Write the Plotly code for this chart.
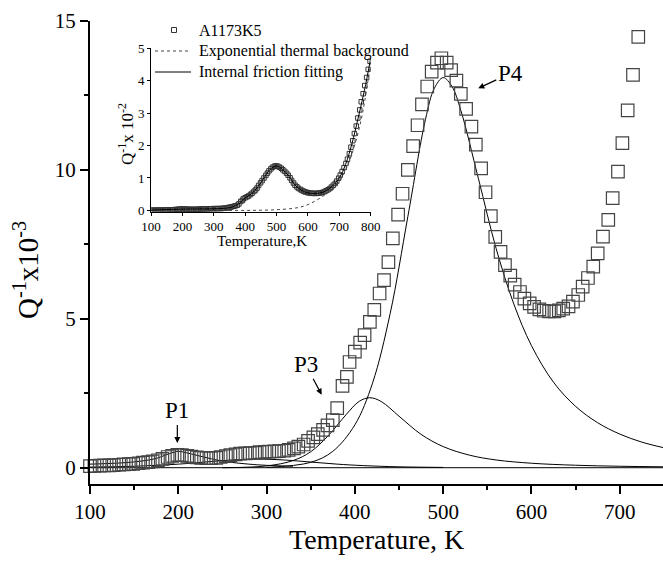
import plotly.graph_objects as go

# ---------------- data ----------------
# main panel: measured internal friction (Q^-1 x 10^-3) vs temperature (K)
temp_main = [100,105,111,116,122,127,133,138,144,149,155,160,166,171,177,182,188,193,199,204,
             210,215,221,226,232,237,243,248,254,259,265,270,276,281,287,292,298,303,309,314,
             320,325,331,336,342,347,353,358,364,369,375,380,386,391,394,400,406,411,417,422,
             428,433,438,443,449,454,460,466,471,476,482,487,493,498,504,509,515,520,526,532,
             537,543,548,554,559,565,570,576,581,587,592,598,603,609,614,620,626,631,636,642,
             647,653,658,664,670,675,681,687,692,698,703,709,715,721]
q_main = [0.05,0.06,0.07,0.08,0.08,0.09,0.10,0.11,0.12,0.13,0.15,0.17,0.19,0.21,0.25,0.30,0.36,0.40,0.43,0.42,
          0.40,0.37,0.35,0.33,0.32,0.32,0.33,0.36,0.39,0.42,0.45,0.47,0.48,0.49,0.50,0.52,0.53,0.54,0.55,0.56,
          0.57,0.60,0.65,0.71,0.78,0.90,1.02,1.13,1.27,1.42,1.60,2.00,2.75,3.05,3.55,3.90,4.20,4.45,4.90,5.30,
          5.85,6.30,6.90,7.70,8.50,9.20,10.0,10.8,11.5,12.2,12.8,13.3,13.6,13.75,13.6,13.35,13.0,12.55,12.05,11.45,
          10.85,10.05,9.25,8.45,7.75,7.25,6.80,6.45,6.15,5.90,5.68,5.52,5.40,5.32,5.27,5.25,5.25,5.28,5.34,5.42,
          5.58,5.80,6.08,6.37,6.75,7.20,7.76,8.32,9.05,9.94,10.9,12.0,13.19,14.47]

# fitted relaxation peaks (main panel)
p1_t = [100,120,140,160,175,185,195,200,205,215,230,245,260,280,300,330]
p1_q = [0.12,0.14,0.17,0.23,0.31,0.42,0.52,0.55,0.53,0.46,0.35,0.25,0.18,0.12,0.08,0.05]
p2_t = [100,150,200,230,260,290,320,350,380,410,450,500]
p2_q = [0.02,0.05,0.12,0.19,0.26,0.29,0.26,0.19,0.12,0.07,0.03,0.01]
p3_t = [250,300,330,350,370,390,405,417,430,450,475,500,530,560,600,650,700,750]
p3_q = [0.0,0.06,0.24,0.535,1.08,1.78,2.23,2.35,2.22,1.73,1.12,0.71,0.42,0.26,0.15,0.083,0.049,0.03]
p4_t = [300,350,375,400,420,440,460,480,490,500,510,520,540,560,580,600,625,650,675,700,725,750]
p4_q = [0.01,0.18,0.55,1.44,2.84,5.18,8.43,11.7,12.74,13.1,12.8,12.0,9.7,7.36,5.5,4.1,2.87,2.06,1.51,1.13,0.86,0.67]
base_t = [100, 750]
base_q = [0.0, 0.0]

# inset panel (Q^-1 x 10^-2): same measurement extended to 800 K
temp_ext = [726,732,737,743,748,754,759,765,770,776,781,787,792,798]
q_ext = [1.58,1.75,1.95,2.15,2.37,2.60,2.85,3.10,3.35,3.60,3.85,4.10,4.35,4.60]
bg_t = [100,200,300,400,450,500,550,575,600,625,650,675,700,725,750,775,800]
bg_q = [0,0,0,0,0.005,0.02,0.06,0.10,0.18,0.30,0.45,0.65,0.90,1.35,2.05,3.05,4.60]
fit_t = [100,200,300,340,360,380,400,420,440,460,480,500,520,540,560,580,600,620,640,660,680,700,720,740,760,780,800]
fit_q = [0.01,0.04,0.05,0.07,0.11,0.20,0.39,0.51,0.72,1.0,1.27,1.37,1.26,1.05,0.77,0.62,0.54,0.525,0.54,0.62,0.77,1.0,1.42,2.05,2.85,3.70,4.70]

x_ticks_main = [100,200,300,400,500,600,700]
y_ticks_main = [0,5,10,15]
x_ticks_inset = [100,200,300,400,500,600,700,800]
y_ticks_inset = [0,1,2,3,4,5]

legend_names = ["A1173K5", "Exponential thermal background", "Internal friction fitting"]

# ---------------- figure ----------------
FONT = "Liberation Serif"
W, H = 663, 562
ML, MR, MT, MB = 90, 0, 21, 78
PW, PH = W - ML - MR, H - MT - MB

def px(x):
    return (x - ML) / PW

def py(y):
    return (H - MB - y) / PH

fig = go.Figure()

for t, q in [(base_t, base_q), (p1_t, p1_q), (p2_t, p2_q), (p3_t, p3_q), (p4_t, p4_q)]:
    fig.add_trace(go.Scatter(x=t, y=q, mode="lines", line=dict(color="black", width=1, shape="spline"),
                             showlegend=False, xaxis="x", yaxis="y"))

fig.add_trace(go.Scatter(x=temp_main, y=q_main, mode="markers",
                         marker=dict(symbol="square-open", size=12.5, color="#444444", line=dict(width=1.2)),
                         showlegend=False, cliponaxis=False, xaxis="x", yaxis="y"))

# inset
inset_t = temp_main + temp_ext
inset_q = [q / 10 for q in q_main] + q_ext
fig.add_trace(go.Scatter(x=inset_t, y=inset_q, mode="markers",
                         marker=dict(symbol="square-open", size=4.5, color="#333333", line=dict(width=1)),
                         showlegend=False, xaxis="x2", yaxis="y2"))
fig.add_trace(go.Scatter(x=bg_t, y=bg_q, mode="lines", line=dict(color="#444444", width=1, dash="dot", shape="spline"),
                         showlegend=False, xaxis="x2", yaxis="y2"))
fig.add_trace(go.Scatter(x=fit_t, y=fit_q, mode="lines", line=dict(color="black", width=1, shape="spline"),
                         showlegend=False, xaxis="x2", yaxis="y2"))

axis_common = dict(showline=True, linecolor="black", showgrid=False, zeroline=False,
                   ticks="outside", tickcolor="black", automargin=False)

fig.update_layout(
    width=W, height=H,
    margin=dict(l=ML, r=MR, t=MT, b=MB, autoexpand=False),
    paper_bgcolor="white", plot_bgcolor="white",
    font=dict(family=FONT, color="black"),
    showlegend=False,
    xaxis=dict(axis_common, range=[100, 749], tickvals=x_ticks_main, linewidth=2, tickwidth=1.5, ticklen=8,
               tickfont=dict(size=21),
               minor=dict(dtick=50, tick0=100, ticklen=4, tickwidth=1.5, ticks="outside", showgrid=False)),
    yaxis=dict(axis_common, range=[-0.547, 15], tickvals=y_ticks_main, linewidth=2, tickwidth=1.5, ticklen=8,
               tickfont=dict(size=21),
               minor=dict(dtick=2.5, tick0=0, ticklen=4, tickwidth=1.5, ticks="outside", showgrid=False)),
    xaxis2=dict(axis_common, domain=[px(151), px(370.7)], anchor="y2", range=[100, 800], tickvals=x_ticks_inset,
                linewidth=1, tickwidth=1, ticklen=3, tickfont=dict(size=13)),
    yaxis2=dict(axis_common, domain=[py(211.7), py(48.3)], anchor="x2", range=[-0.04, 5], tickvals=y_ticks_inset,
                linewidth=1, tickwidth=1, ticklen=3, tickfont=dict(size=13)),
)

ann = []
# axis titles
ann.append(dict(text="Temperature, K", x=px(376.5), y=py(539), xref="paper", yref="paper",
                showarrow=False, font=dict(size=28), xanchor="center", yanchor="middle"))
ann.append(dict(text="Q<sup>-1</sup>x10<sup>-3</sup>", x=px(26), y=py(270), xref="paper", yref="paper",
                showarrow=False, font=dict(size=29), textangle=-90, xanchor="center", yanchor="middle"))
ann.append(dict(text="Temperature,K", x=px(262), y=py(241), xref="paper", yref="paper",
                showarrow=False, font=dict(size=15), xanchor="center", yanchor="middle"))
ann.append(dict(text="Q<sup>-1</sup>x 10<sup>-2</sup>", x=px(126), y=py(134), xref="paper", yref="paper",
                showarrow=False, font=dict(size=17), textangle=-90, xanchor="center", yanchor="middle"))
# peak labels with arrows
arrow = dict(showarrow=True, arrowhead=2, arrowsize=1, arrowwidth=1.2, arrowcolor="black",
             font=dict(size=23), xref="x", yref="y", axref="pixel", ayref="pixel")
ann.append(dict(arrow, text="P1", x=198.9, y=0.83, ax=0, ay=-32))
ann.append(dict(arrow, text="P3", x=362.4, y=2.45, ax=-16, ay=-30))
ann.append(dict(arrow, text="P4", x=539.8, y=12.74, ax=32, ay=-15))
# inset legend text
for name, yy in zip(legend_names, [30, 51, 72]):
    ann.append(dict(text=name, x=px(197), y=py(yy), xref="paper", yref="paper", showarrow=False,
                    font=dict(size=16), xanchor="left", yanchor="middle"))
fig.update_layout(annotations=ann)

shapes = [
    dict(type="rect", xref="paper", yref="paper", x0=px(171.5), x1=px(176.5), y0=py(32.5), y1=py(27.5),
         line=dict(color="#333333", width=1)),
    dict(type="line", xref="paper", yref="paper", x0=px(155), x1=px(191), y0=py(51), y1=py(51),
         line=dict(color="#444444", width=1, dash="dot")),
    dict(type="line", xref="paper", yref="paper", x0=px(155), x1=px(191), y0=py(72), y1=py(72),
         line=dict(color="black", width=1)),
]
fig.update_layout(shapes=shapes)

fig.write_html("out.html", config={"displayModeBar": False},
               post_script="document.body.style.margin='0';")
